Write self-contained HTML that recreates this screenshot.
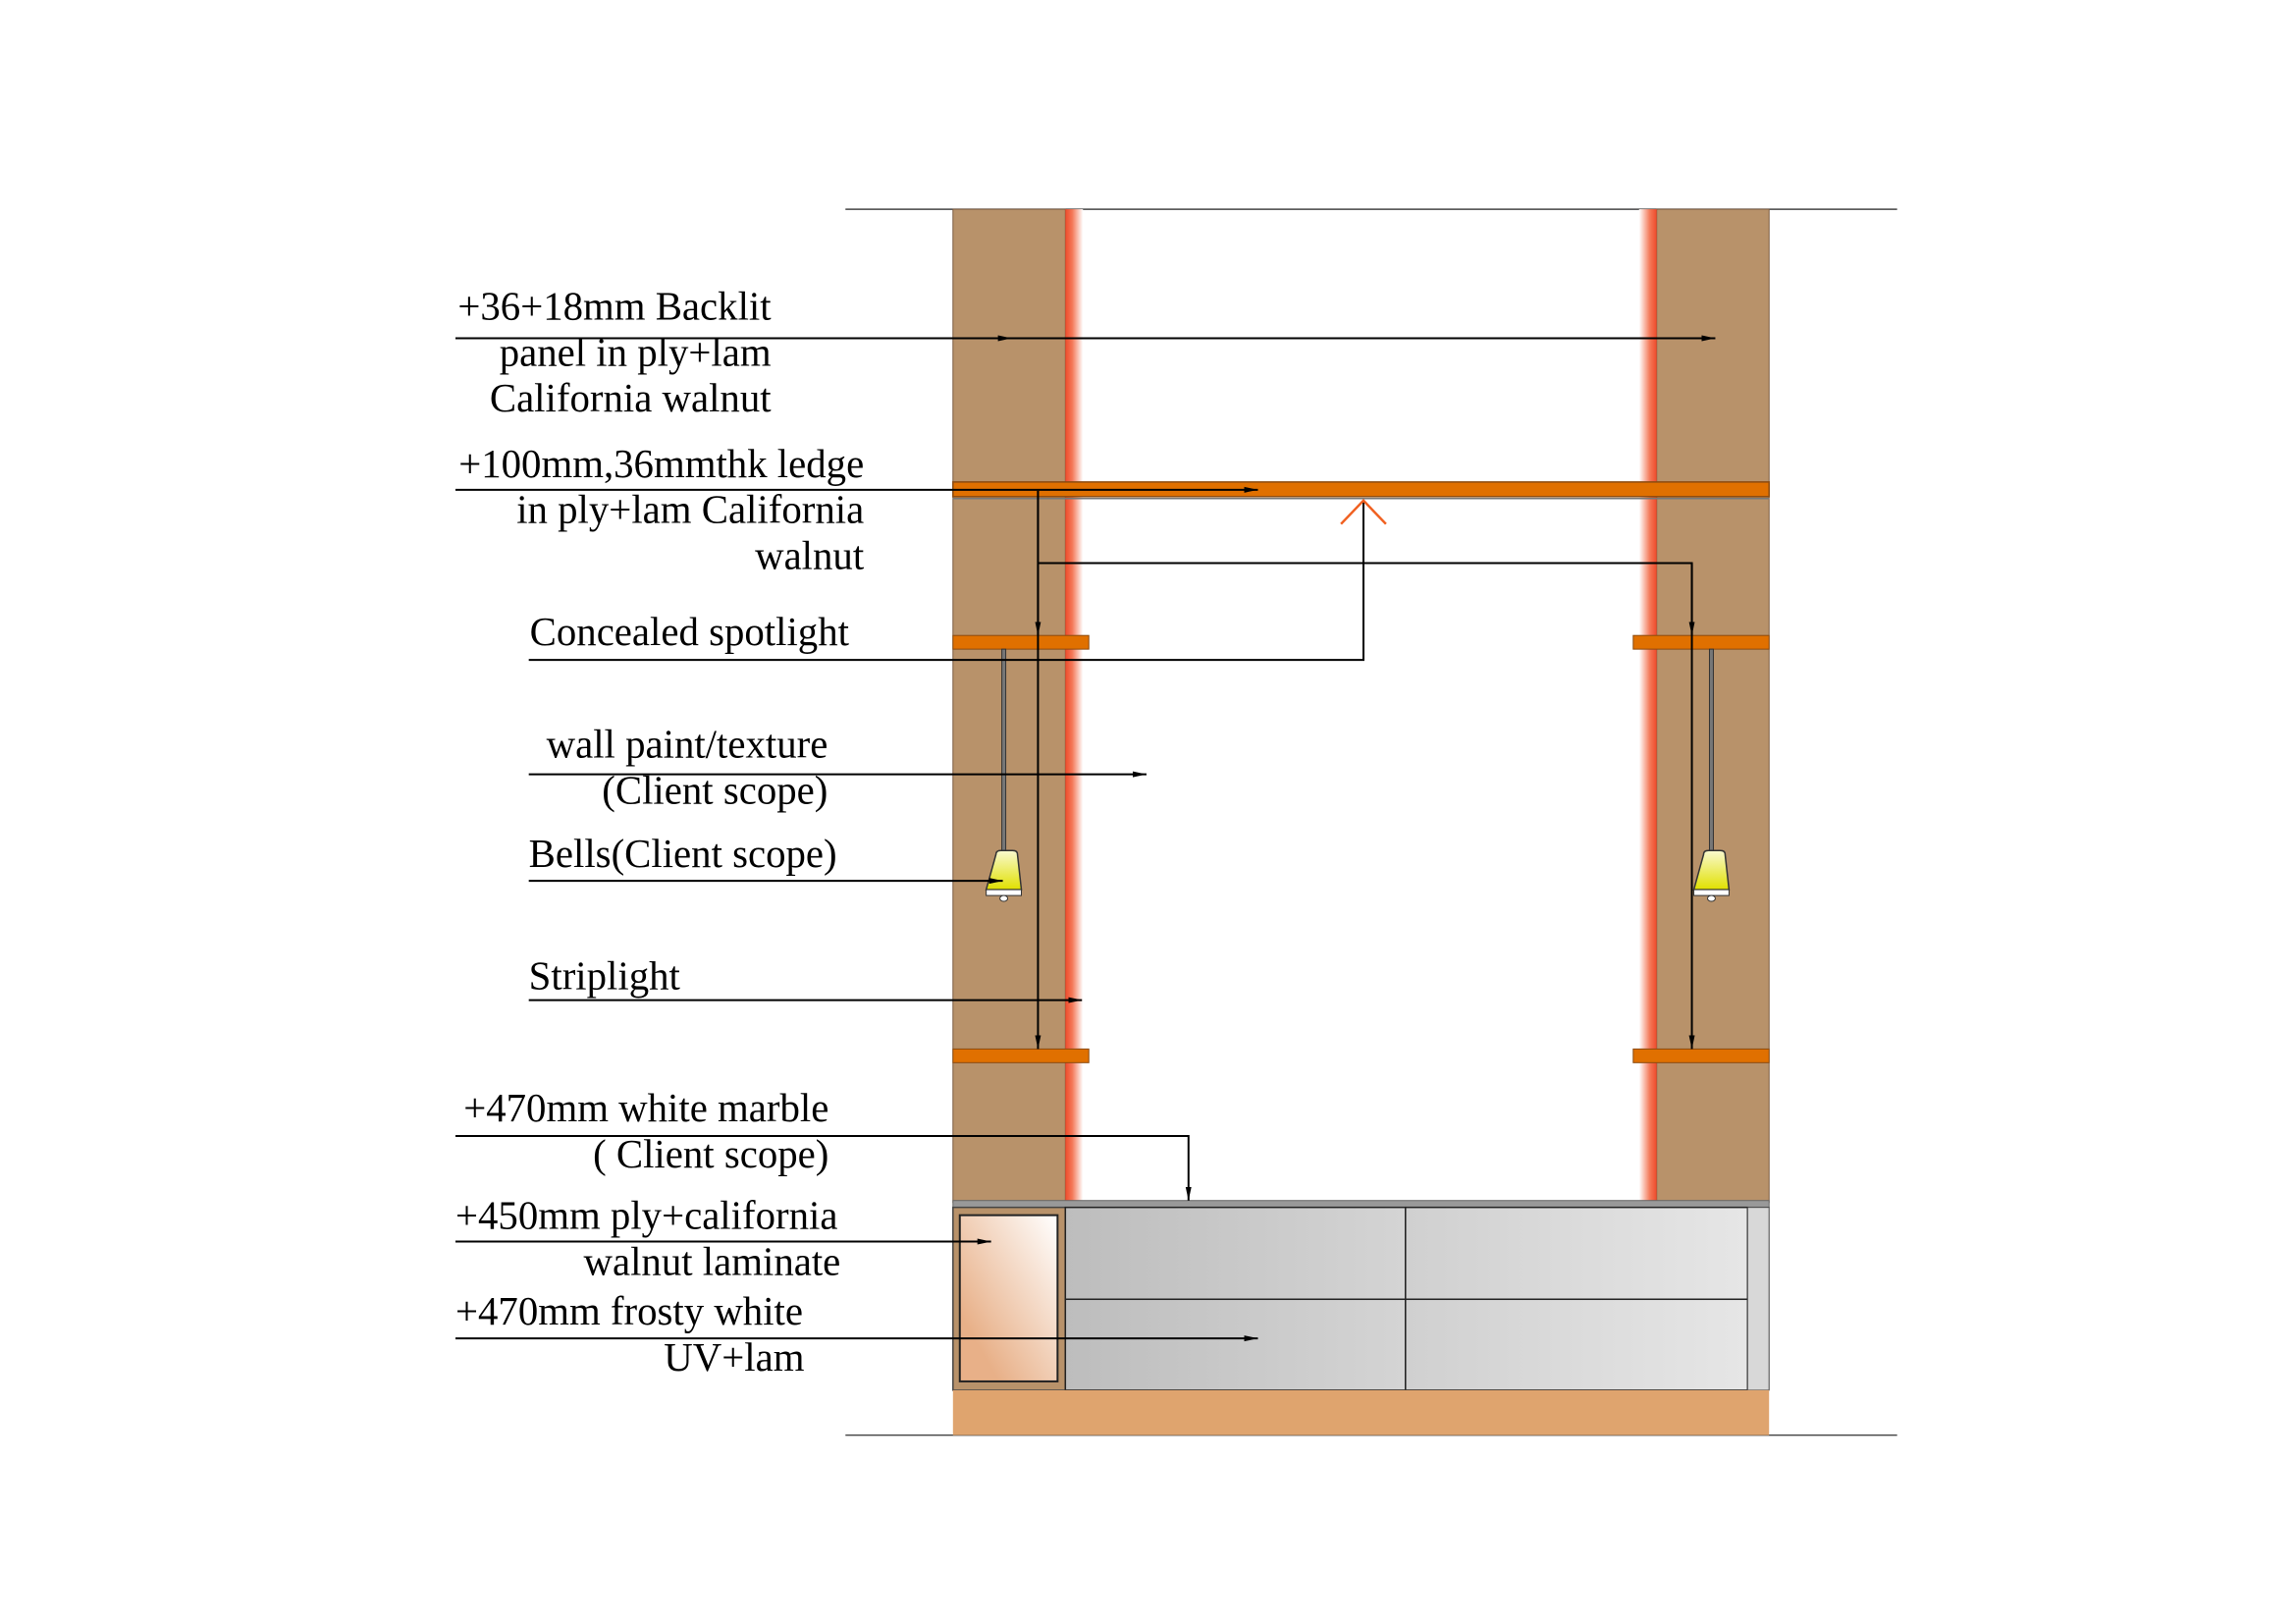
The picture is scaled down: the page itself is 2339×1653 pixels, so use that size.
<!DOCTYPE html>
<html><head><meta charset="utf-8"><style>html,body{margin:0;padding:0;background:#fff}svg{display:block}</style></head>
<body>
<svg width="2339" height="1653" viewBox="0 0 2339 1653" xmlns="http://www.w3.org/2000/svg" font-family="'Liberation Serif', serif" font-size="41">
<defs>
<linearGradient id="redL" x1="0" x2="1"><stop offset="0" stop-color="#ee4a2a"/><stop offset="0.4" stop-color="#f47a5a"/><stop offset="1" stop-color="#fff"/></linearGradient>
<linearGradient id="redR" x1="1" x2="0"><stop offset="0" stop-color="#ee4a2a"/><stop offset="0.4" stop-color="#f47a5a"/><stop offset="1" stop-color="#fff"/></linearGradient>
<linearGradient id="dr1" x1="0" x2="1"><stop offset="0" stop-color="#bdbdbd"/><stop offset="1" stop-color="#d4d4d4"/></linearGradient>
<linearGradient id="dr2" x1="0" x2="1"><stop offset="0" stop-color="#d0d0d0"/><stop offset="1" stop-color="#e6e6e6"/></linearGradient>
<linearGradient id="box" x1="1" y1="0" x2="0" y2="1"><stop offset="0" stop-color="#fff"/><stop offset="0.8" stop-color="#e8b088"/></linearGradient>
<linearGradient id="bell" x1="0" y1="0" x2="0" y2="1"><stop offset="0" stop-color="#fafad0"/><stop offset="1" stop-color="#e0e000"/></linearGradient>
<marker id="ar" markerWidth="14" markerHeight="8" refX="14" refY="4" orient="auto" markerUnits="userSpaceOnUse"><path d="M0,1 L14,4 L0,7 Z" fill="#000"/></marker>
</defs>
<g transform="scale(0.9957)">
<line x1="865" y1="214" x2="1941" y2="214" stroke="#444" stroke-width="1.5"/>
<line x1="865" y1="1468" x2="1941" y2="1468" stroke="#444" stroke-width="1.5"/>
<rect x="975" y="214" width="115" height="1016" fill="#b8926a" stroke="#7a5a40" stroke-width="1"/>
<rect x="1695" y="214" width="115" height="1016" fill="#b8926a" stroke="#7a5a40" stroke-width="1"/>
<rect x="1090" y="214" width="18" height="1016" fill="url(#redL)"/>
<rect x="1677" y="214" width="18" height="1016" fill="url(#redR)"/>
<rect x="975" y="493" width="835" height="15" fill="#e07000" stroke="#8a4a10" stroke-width="1.5"/>
<line x1="975" y1="510" x2="1810" y2="510" stroke="#777" stroke-width="1.5"/>
<rect x="975" y="650" width="139" height="14" fill="#e07000" stroke="#8a4a10" stroke-width="1"/>
<rect x="1671" y="650" width="139" height="14" fill="#e07000" stroke="#8a4a10" stroke-width="1"/>
<rect x="975" y="1073" width="139" height="14" fill="#e07000" stroke="#8a4a10" stroke-width="1"/>
<rect x="1671" y="1073" width="139" height="14" fill="#e07000" stroke="#8a4a10" stroke-width="1"/>
<g stroke="#333" stroke-width="1"><rect x="1025" y="664" width="4" height="210" fill="#777"/><rect x="1749" y="664" width="4" height="210" fill="#777"/></g>
<g id="b1">
<path d="M1019,874 Q1019,870 1024,870 L1036,870 Q1041,870 1041,874 L1045,910 L1009,910 Z" fill="url(#bell)" stroke="#333" stroke-width="1.5"/>
<rect x="1009" y="910" width="36" height="6" fill="#fff" stroke="#333" stroke-width="1"/>
<ellipse cx="1027" cy="919" rx="4" ry="3" fill="#fff" stroke="#333"/>
</g>
<use href="#b1" x="724"/>
<rect x="975" y="1228" width="835" height="7" fill="#999" stroke="#666" stroke-width="1"/>
<rect x="975" y="1235" width="115" height="187" fill="#b8926a" stroke="#444" stroke-width="1.5"/>
<rect x="982" y="1243" width="100" height="170" fill="url(#box)" stroke="#222" stroke-width="2"/>
<rect x="1090" y="1235" width="348" height="94" fill="url(#dr1)" stroke="#222" stroke-width="1.5"/>
<rect x="1090" y="1329" width="348" height="93" fill="url(#dr1)" stroke="#222" stroke-width="1.5"/>
<rect x="1438" y="1235" width="350" height="94" fill="url(#dr2)" stroke="#222" stroke-width="1.5"/>
<rect x="1438" y="1329" width="350" height="93" fill="url(#dr2)" stroke="#222" stroke-width="1.5"/>
<rect x="1788" y="1235" width="22" height="187" fill="#d8d8d8" stroke="#444" stroke-width="1"/>
<rect x="975" y="1422" width="835" height="46" fill="#dfa46e"/>
<g stroke="#000" stroke-width="2" fill="none">
<line x1="466" y1="346" x2="1755" y2="346" marker-end="url(#ar)"/>
<line x1="466" y1="346" x2="1035" y2="346" marker-end="url(#ar)"/>
<line x1="466" y1="501" x2="1287" y2="501" marker-end="url(#ar)"/>
<polyline points="1062,502 1062,1073" marker-end="url(#ar)"/>
<line x1="1062" y1="502" x2="1062" y2="650" marker-end="url(#ar)"/>
<polyline points="1062,576 1731,576 1731,1073" marker-end="url(#ar)"/>
<line x1="1731" y1="576" x2="1731" y2="650" marker-end="url(#ar)"/>
<polyline points="541,675 1395,675 1395,512"/>
<line x1="541" y1="792" x2="1173" y2="792" marker-end="url(#ar)"/>
<line x1="541" y1="901" x2="1026" y2="901" marker-end="url(#ar)"/>
<line x1="541" y1="1023" x2="1107" y2="1023" marker-end="url(#ar)"/>
<polyline points="466,1162 1216,1162 1216,1228" marker-end="url(#ar)"/>
<line x1="466" y1="1270" x2="1014" y2="1270" marker-end="url(#ar)"/>
<line x1="466" y1="1369" x2="1287" y2="1369" marker-end="url(#ar)"/>
</g>
<polyline points="1372,536 1395,512 1418,536" stroke="#f06020" stroke-width="2.5" fill="none"/>
<g fill="#000">
<text x="789" y="327" text-anchor="end">+36+18mm Backlit</text>
<text x="789" y="374" text-anchor="end">panel in  ply+lam</text>
<text x="789" y="421" text-anchor="end">California walnut</text>
<text x="884" y="488" text-anchor="end">+100mm,36mmthk ledge</text>
<text x="884" y="535" text-anchor="end">in ply+lam California</text>
<text x="884" y="582" text-anchor="end">walnut</text>
<text x="542" y="660">Concealed spotlight</text>
<text x="847" y="775" text-anchor="end">wall paint/texture</text>
<text x="847" y="822" text-anchor="end">(Client scope)</text>
<text x="541" y="887">Bells(Client scope)</text>
<text x="541" y="1012">Striplight</text>
<text x="848" y="1147" text-anchor="end">+470mm white marble</text>
<text x="848" y="1194" text-anchor="end">( Client scope)</text>
<text x="466" y="1257">+450mm ply+california</text>
<text x="860" y="1304" text-anchor="end">walnut laminate</text>
<text x="466" y="1355">+470mm frosty white</text>
<text x="823" y="1402" text-anchor="end">UV+lam</text>
</g>
</g>
</svg>
</body></html>
